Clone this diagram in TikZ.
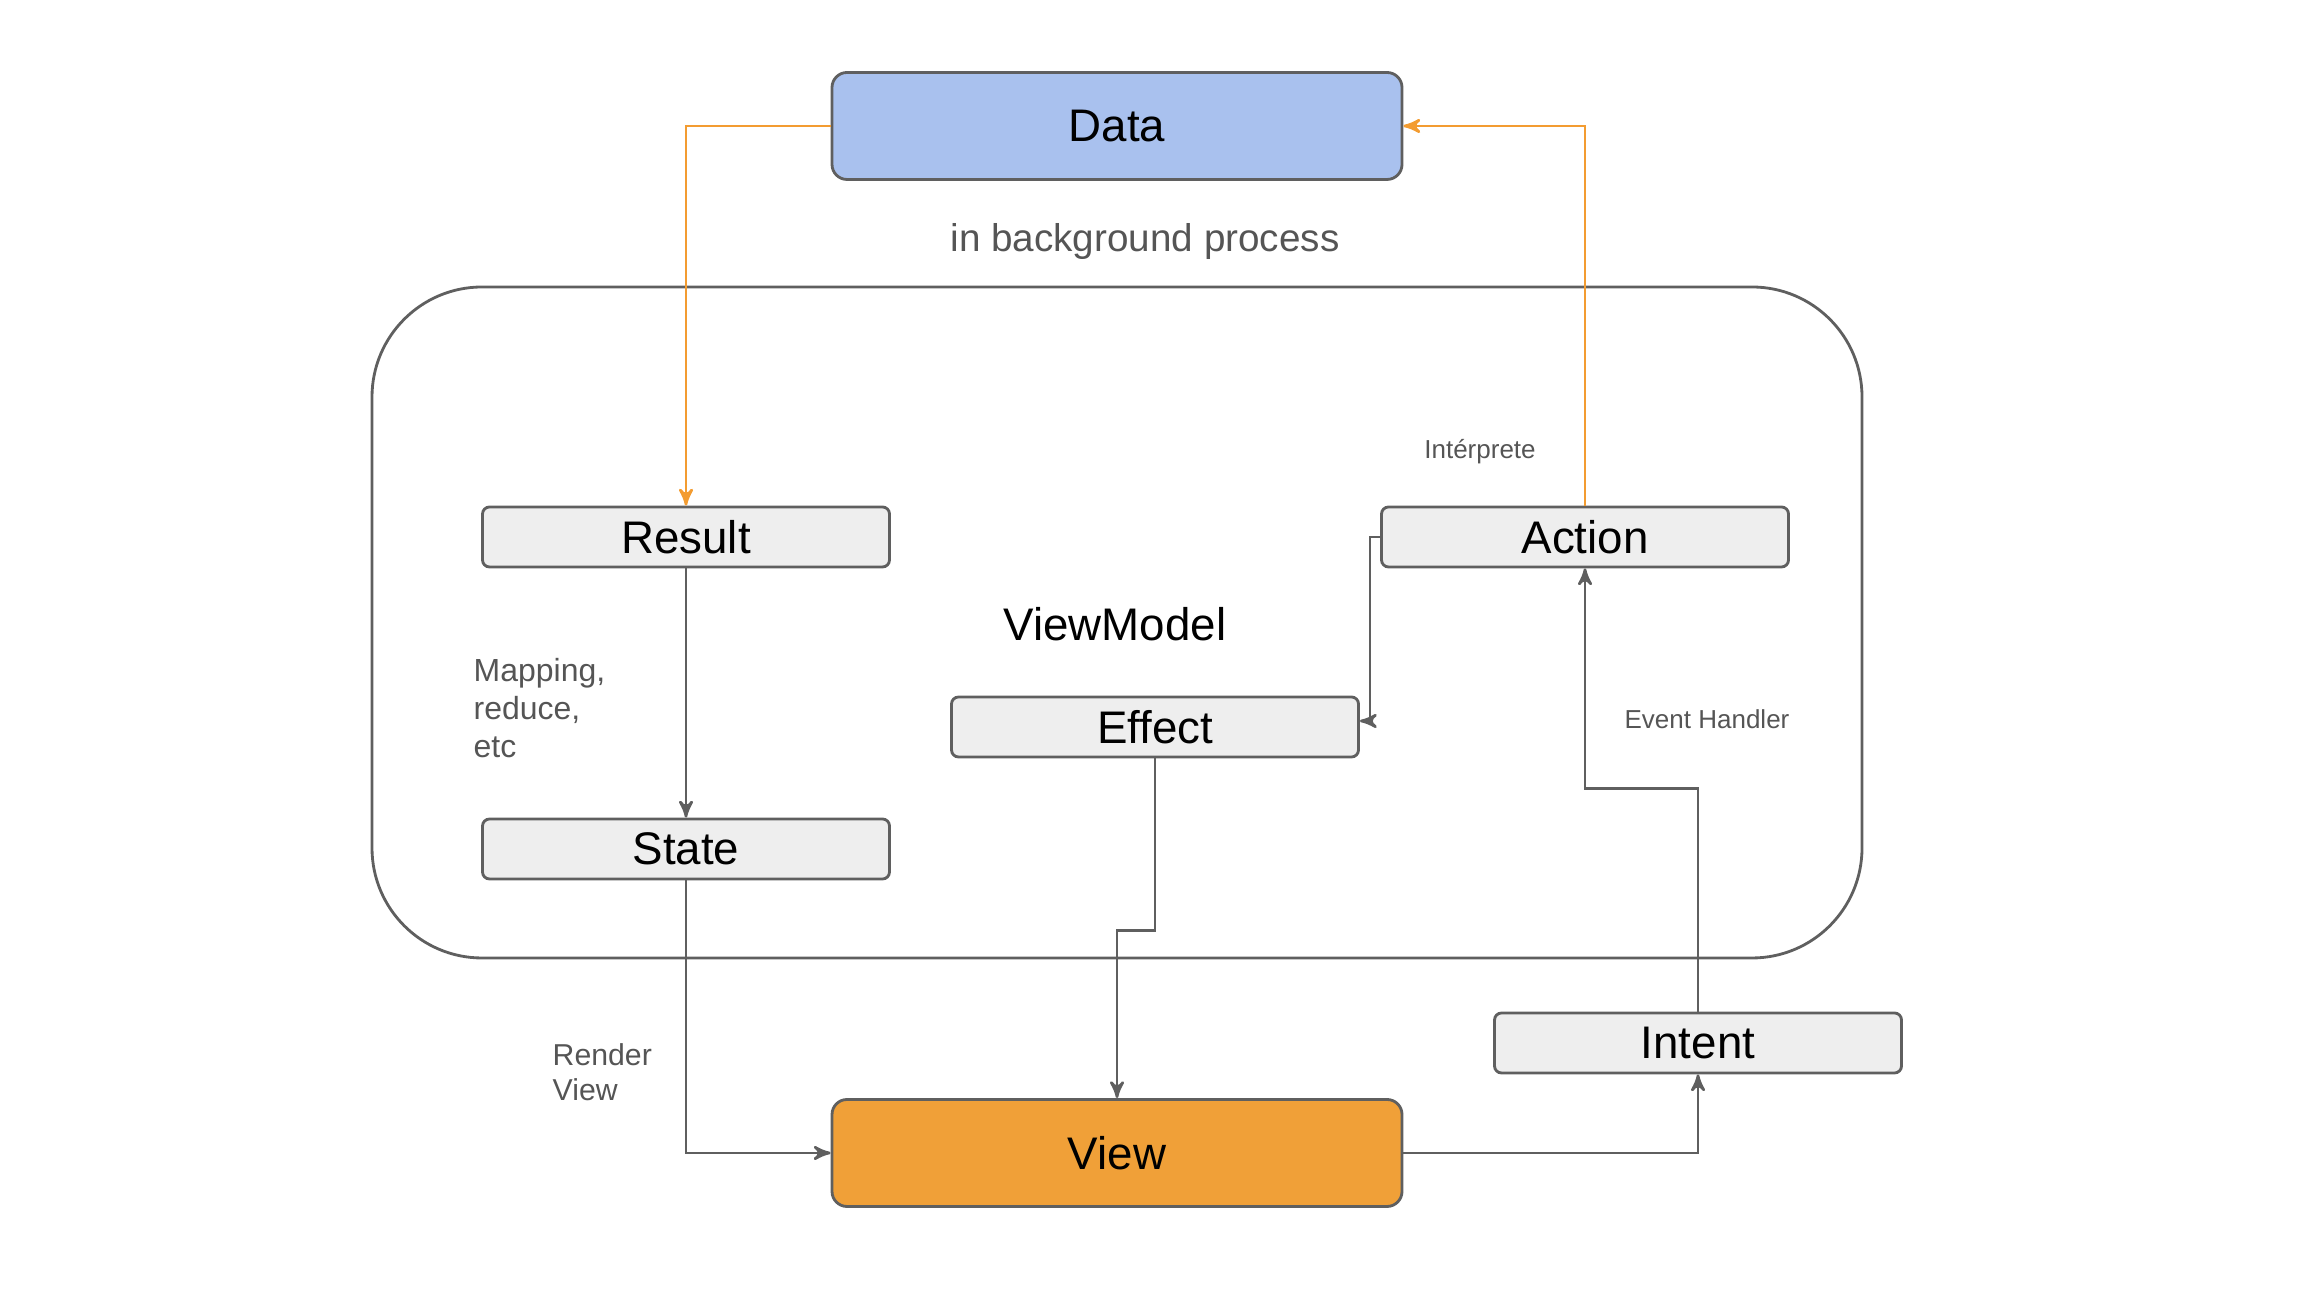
\documentclass[tikz,border=0pt]{standalone}
\usepackage{fontspec}
\setmainfont{Liberation Sans}
\usepackage{tikz}
\usetikzlibrary{arrows}

\definecolor{linegray}{HTML}{5F5F5F}
\definecolor{boxgray}{HTML}{EEEEEE}
\definecolor{datablue}{HTML}{A9C1EE}
\definecolor{vieworange}{HTML}{F0A038}
\definecolor{flowline}{HTML}{F39C31}
\definecolor{labelgray}{HTML}{555555}

\tikzset{
	stage/.style={rectangle,draw=linegray,line width=0.8pt,fill=boxgray,rounded corners=0.07cm,
		minimum width=4.07cm,minimum height=0.6cm,inner sep=0pt,font=\fontsize{13}{15.6}\selectfont},
	bigbox/.style={stage,rounded corners=0.15cm,minimum width=5.7cm,minimum height=1.07cm},
	frame/.style={rectangle,draw=linegray,line width=0.8pt,rounded corners=1.1cm,
		minimum width=14.9cm,minimum height=6.71cm,inner sep=0pt},
	note/.style={text=labelgray,inner sep=0pt,align=left},
	flow/.style={draw=linegray,line width=0.75pt,-stealth'},
	bgflow/.style={draw=flowline,line width=0.75pt,-stealth'}
}

\begin{document}
\begin{tikzpicture}
		\useasboundingbox (0,0) rectangle (23.04,13);
%		\draw[help lines] (0,0) grid (23,13);
		\path (11.17,11.74) coordinate (data_c);
		\path (11.45,10.58) coordinate (bg_c);
		\path (11.17,6.775) coordinate (vm_c);
		\path (11.15,6.76) coordinate (vmlabel_c);

		\path (6.86,7.63) coordinate (result_c);
		\path (15.85,7.63) coordinate (action_c);
		\path (11.55,5.73) coordinate (effect_c);
		\path (6.86,4.51) coordinate (state_c);
		\path (16.98,2.57) coordinate (intent_c);
		\path (11.17,1.47) coordinate (view_c);

		\path (14.80,8.48) coordinate (interp_c);
		\path (4.73,5.92) coordinate (mapping_l);
		\path (17.07,5.81) coordinate (handler_c);
		\path (5.52,2.28) coordinate (render_l);

		\draw (vm_c) node(vmframe) [frame] {};
		\draw (data_c) node(data) [bigbox,fill=datablue] {Data};
		\draw (bg_c) node(bglabel) [note,font=\fontsize{11}{13.2}\selectfont] {in background process};
		\draw (vmlabel_c) node(vmlabel) [font=\fontsize{13}{15.6}\selectfont] {ViewModel};

		\draw (result_c) node(result) [stage] {Result};
		\draw (action_c) node(action) [stage] {Action};
		\draw (effect_c) node(effect) [stage] {Effect};
		\draw (state_c) node(state) [stage] {State};
		\draw (intent_c) node(intent) [stage] {Intent};
		\draw (view_c) node(view) [bigbox,fill=vieworange] {View};

		\draw (interp_c) node(interp) [note,font=\fontsize{7.4}{8.9}\selectfont] {Intérprete};
		\draw (mapping_l) node(mapping) [note,right,font=\fontsize{9.1}{10.8}\selectfont] {Mapping,\\reduce,\\etc};
		\draw (handler_c) node(handler) [note,font=\fontsize{7.4}{8.9}\selectfont] {Event Handler};
		\draw (render_l) node(render) [note,right,font=\fontsize{8.6}{9.9}\selectfont] {Render\\View};

		% background process
		\draw[bgflow] (data.west) -| (result.north);
		\draw[bgflow] (action.north) |- (data.east);

		% inside the view model
		\draw[flow] (result.south) -- (state.north);
		\draw[flow] (action.west) -- ++(-0.1,0) |- ([yshift=0.06cm]effect.east);

		% to and from the view
		\draw[flow] (state.south) |- (view.west);
		\draw[flow] (effect.south) -- ++(0,-1.72) -| (view.north);
		\draw[flow] (view.east) -| (intent.south);
		\draw[flow] (intent.north) -- ++(0,2.23) -| (action.south);
	\end{tikzpicture}
\end{document}
